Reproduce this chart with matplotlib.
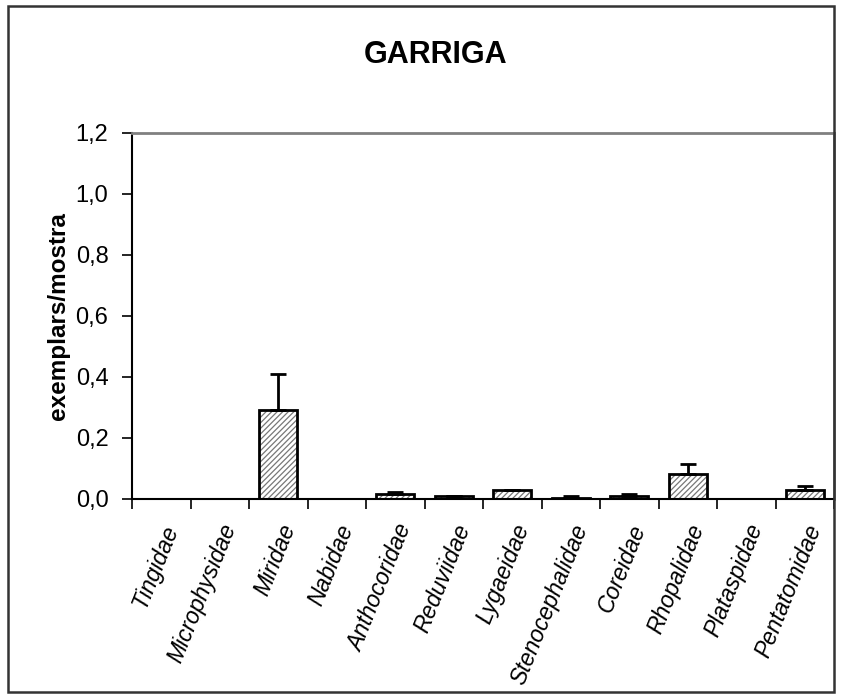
import matplotlib
matplotlib.use("Agg")
import matplotlib.pyplot as plt
from matplotlib.patches import Rectangle
import numpy as np

plt.rcParams['font.family'] = ['Liberation Sans', 'DejaVu Sans']
plt.rcParams['hatch.linewidth'] = 0.9

families = ["Tingidae", "Microphysidae", "Miridae", "Nabidae", "Anthocoridae",
            "Reduviidae", "Lygaeidae", "Stenocephalidae", "Coreidae",
            "Rhopalidae", "Plataspidae", "Pentatomidae"]
values = [0.0, 0.0, 0.29, 0.0, 0.015, 0.009, 0.028, 0.002, 0.009, 0.081, 0.0, 0.029]
errors = [0.0, 0.0, 0.12, 0.0, 0.007, 0.0, 0.0, 0.006, 0.006, 0.033, 0.0, 0.013]
yticks = [0.0, 0.2, 0.4, 0.6, 0.8, 1.0, 1.2]
ytick_labels = ["0,0", "0,2", "0,4", "0,6", "0,8", "1,0", "1,2"]

W, H = 842, 700
fig = plt.figure(figsize=(W / 100, H / 100), dpi=100)
ax = fig.add_axes([132 / W, 1 - 498.5 / H, (834 - 132) / W, (498.5 - 133) / H])

x = np.arange(len(families))
# gray dotted-looking hatch fill
ax.bar(x, values, width=0.65, color='white', edgecolor='#777777', linewidth=0,
       hatch='//////', zorder=2)
# black outline
ax.bar(x, values, width=0.65, fill=False, edgecolor='black', linewidth=2,
       zorder=2.5)
errs = [np.zeros(len(errors)), errors]
ax.errorbar(x, values, yerr=errs, fmt='none', ecolor='black', elinewidth=2,
            capsize=5.5, capthick=2, zorder=3)

ax.set_xlim(-0.5, len(families) - 0.5)
ax.set_ylim(0, 1.2)
ax.set_yticks(yticks)
ax.set_yticklabels(ytick_labels, fontsize=17)
ax.tick_params(axis='y', direction='out', length=7, width=1.2, pad=10)

ax.set_xticks(np.arange(len(families) + 1) - 0.5)
ax.set_xticklabels([])
ax.tick_params(axis='x', which='major', direction='out', length=7, width=1.2)
ax.set_xticks(x, minor=True)
ax.set_xticklabels(families, minor=True, rotation=68, ha='right', va='top',
                   rotation_mode='anchor', fontsize=16.5, style='italic')
ax.tick_params(axis='x', which='minor', length=0, pad=16)

for s in ['left', 'bottom']:
    ax.spines[s].set_color('black')
    ax.spines[s].set_linewidth(1.5)
for s in ['top', 'right']:
    ax.spines[s].set_color('#808080')
    ax.spines[s].set_linewidth(2)

ax.set_ylabel("exemplars/mostra", fontsize=17.5, fontweight='bold', labelpad=4)
fig.text(436 / W, 1 - 55 / H, "GARRIGA", fontsize=22, fontweight='bold',
         ha='center', va='center')

fig.patches.append(Rectangle((8 / W, 1 - 692 / H), (834 - 8) / W, (692 - 6) / H,
                             transform=fig.transFigure, fill=False,
                             edgecolor='#333333', linewidth=1.8))

fig.savefig("out.png", dpi=100, facecolor='white')
